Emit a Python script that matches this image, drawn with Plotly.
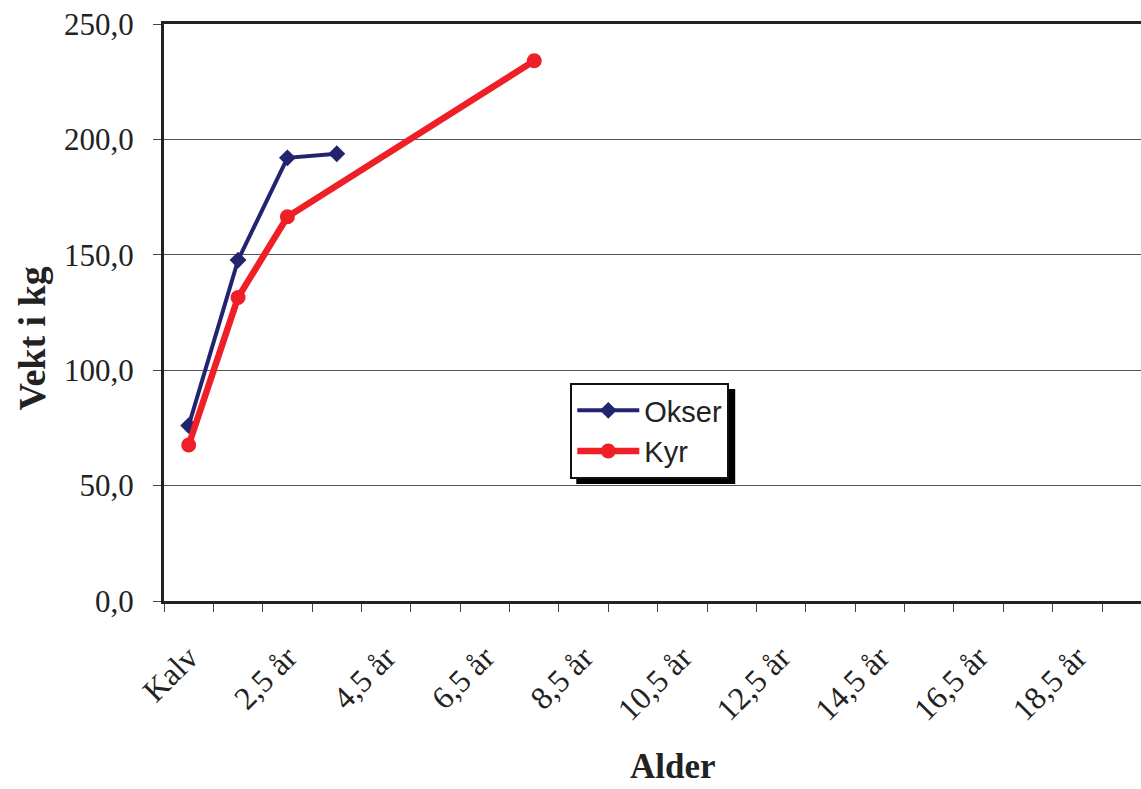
import plotly.graph_objects as go

categories = ["Kalv"] + [f"{i},5 år" for i in range(1, 20)]
tick_labels = [c if i % 2 == 0 else "" for i, c in enumerate(categories)]

okser_x = ["Kalv", "1,5 år", "2,5 år", "3,5 år"]
okser_y = [76.0, 147.7, 192.0, 193.8]

kyr_x = ["Kalv", "1,5 år", "2,5 år", "7,5 år"]
kyr_y = [67.6, 131.5, 166.5, 234.1]

W, H = 1141, 789
L, T, B = 163.5, 24, 188
PW, PH = W - L, H - T - B


def px(x):
    return (x - L) / PW


def py(y):
    return (H - B - y) / PH


fig = go.Figure()
fig.add_trace(go.Scatter(
    x=okser_x, y=okser_y, name="Okser", mode="lines+markers",
    line=dict(color="#23246F", width=4),
    marker=dict(symbol="diamond", size=13, color="#23246F"),
))
fig.add_trace(go.Scatter(
    x=kyr_x, y=kyr_y, name="Kyr", mode="lines+markers",
    line=dict(color="#EE1F26", width=6.5),
    marker=dict(symbol="circle", size=15, color="#EE1F26"),
))

fig.update_layout(
    width=W, height=H,
    margin=dict(l=L, r=0, t=T, b=B, autoexpand=False),
    paper_bgcolor="white", plot_bgcolor="white",
    showlegend=True,
    legend=dict(
        xref="paper", yref="paper",
        x=px(570), y=py(383), xanchor="left", yanchor="top",
        bgcolor="white", bordercolor="#111", borderwidth=2,
        font=dict(family="Liberation Sans, Arial", size=29, color="#222"),
        itemwidth=62,
    ),
    shapes=[dict(
        type="rect", xref="paper", yref="paper",
        x0=px(576), x1=px(735), y0=py(484), y1=py(389),
        fillcolor="black", line=dict(width=0), layer="above",
    )],
    annotations=[
        dict(text="<b>Vekt i kg</b>", textangle=-90, xref="paper", yref="paper",
             x=px(31), y=py(339), xanchor="center", yanchor="middle", showarrow=False,
             font=dict(family="Liberation Serif, Times New Roman", size=38, color="#222")),
        dict(text="<b>Alder</b>", xref="paper", yref="paper",
             x=px(673), y=py(788), xanchor="center", yanchor="bottom", showarrow=False,
             font=dict(family="Liberation Serif, Times New Roman", size=35, color="#222")),
    ],
)

fig.update_xaxes(
    type="category", categoryorder="array", categoryarray=categories,
    range=[-0.5, 19.29],
    tickmode="array", tickvals=categories, ticktext=tick_labels,
    tickson="boundaries", ticks="outside", ticklen=8, tickwidth=1, tickcolor="#444",
    tickangle=-45, ticklabelstandoff=22,
    tickfont=dict(family="Liberation Serif, Times New Roman", size=32, color="#222"),
    showline=True, linecolor="#222", linewidth=3, mirror=True,
    showgrid=False, zeroline=False,
)
fig.update_yaxes(
    range=[0, 250], tickmode="array",
    tickvals=[0, 50, 100, 150, 200, 250],
    ticktext=["0,0", "50,0", "100,0", "150,0", "200,0", "250,0"],
    ticks="outside", ticklen=8, tickwidth=1, tickcolor="#444",
    ticklabelstandoff=13,
    tickfont=dict(family="Liberation Serif, Times New Roman", size=31, color="#222"),
    showline=True, linecolor="#222", linewidth=3,
    showgrid=True, gridcolor="#555", gridwidth=1, zeroline=False,
)

fig.write_html("out.html")
